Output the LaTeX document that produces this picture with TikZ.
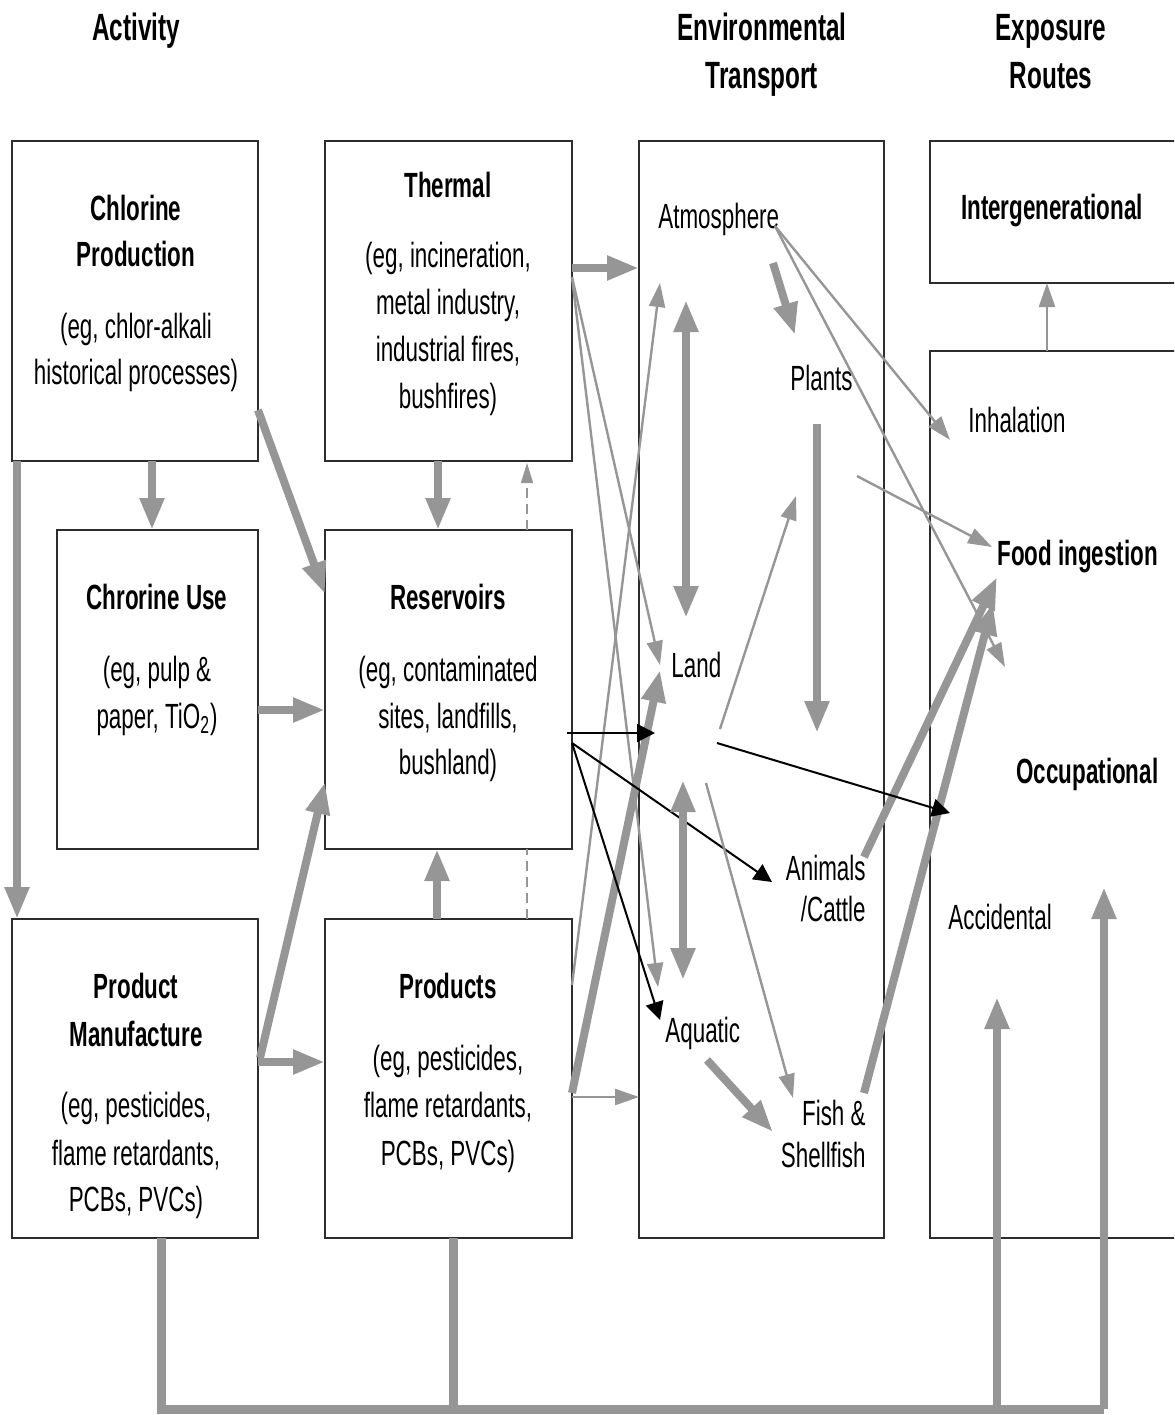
\documentclass[tikz,border=0pt]{standalone}
\usepackage{fontspec}
\setmainfont{Liberation Sans}[FakeStretch=0.64]
\usetikzlibrary{arrows.meta,calc}
\definecolor{ag}{RGB}{150,150,150}
\definecolor{bd}{RGB}{45,45,45}
\begin{document}
\begin{tikzpicture}[x=0.5pt,y=-0.5pt,
  box/.style 2 args={draw=bd,line width=1pt,minimum width=#1*0.5pt,minimum height=#2*0.5pt,inner sep=0pt,outer sep=0pt},
  lbl/.style={inner sep=0pt,anchor=base,font=\fontsize{17.5pt}{21pt}\selectfont},
  ttl/.style={inner sep=0pt,anchor=base,font=\fontsize{17.5pt}{21pt}\selectfont\bfseries},
  hdr/.style={inner sep=0pt,anchor=base,font=\fontsize{19pt}{23pt}\selectfont\bfseries},
  thk/.style={draw=ag,line width=4pt,-{Triangle[length=16pt,width=11.5pt]}},
  thkd/.style={draw=ag,line width=4pt,{Triangle[length=16pt,width=11.5pt]}-{Triangle[length=16pt,width=11.5pt]}},
  loopline/.style={draw=ag,line width=4.5pt,line join=miter},
  thn/.style={draw=ag,line width=1.2pt,-{Triangle[length=12pt,width=8pt]}},
  dsh/.style={draw=ag,line width=0.8pt,dash pattern=on 5pt off 3pt},
  blk/.style={draw=black,line width=1pt,-{Triangle[length=9pt,width=9pt]}}
]
\useasboundingbox (0,0) rectangle (1174,1415);
\clip (0,0) rectangle (1174,1415);

% headers
\node[hdr] (hAct) at (136,40) {Activity};
\node[hdr] (hEnv1) at (762,40) {Environmental};
\node[hdr] (hEnv2) at (762,88) {Transport};
\node[hdr] (hExp1) at (1051,40) {Exposure};
\node[hdr] (hExp2) at (1051,88) {Routes};

% boxes
\node[box={246}{320}] (chlor) at (135,301) {};
\node[box={247}{320}] (therm) at (448.5,301) {};
\node[box={245}{1097}] (env) at (761.5,689.5) {};
\node[box={250}{142}] (inter) at (1055,212) {};
\node[box={250}{887}] (expo) at (1055,794.5) {};
\node[box={201}{319}] (use) at (157.5,689.5) {};
\node[box={247}{319}] (res) at (448.5,689.5) {};
\node[box={246}{319}] (manu) at (135,1078.5) {};
\node[box={247}{319}] (prod) at (448.5,1078.5) {};

% box texts
\node[ttl] (chlorT1) at (136,220) {Chlorine};
\node[ttl] (chlorT2) at (136,266) {Production};
\node[lbl] (chlorD1) at (136,338) {(eg, chlor-alkali};
\node[lbl] (chlorD2) at (136,384) {historical processes)};

\node[ttl] (thermT) at (448,197) {Thermal};
\node[lbl] (thermD1) at (448,267) {(eg, incineration,};
\node[lbl] (thermD2) at (448,314) {metal industry,};
\node[lbl] (thermD3) at (448,361) {industrial fires,};
\node[lbl] (thermD4) at (448,408) {bushfires)};

\node[ttl] (useT) at (157,609) {Chrorine Use};
\node[lbl] (useD1) at (157,681) {(eg, pulp \&};
\node[lbl] (useD2) at (157,728) {paper, TiO\textsubscript{2})};

\node[ttl] (resT) at (448,609) {Reservoirs};
\node[lbl] (resD1) at (448,681) {(eg, contaminated};
\node[lbl] (resD2) at (448,728) {sites, landfills,};
\node[lbl] (resD3) at (448,774) {bushland)};

\node[ttl] (manuT1) at (136,998) {Product};
\node[ttl] (manuT2) at (136,1046) {Manufacture};
\node[lbl] (manuD1) at (136,1117) {(eg, pesticides,};
\node[lbl] (manuD2) at (136,1165) {flame retardants,};
\node[lbl] (manuD3) at (136,1211) {PCBs, PVCs)};

\node[ttl] (prodT) at (448,998) {Products};
\node[lbl] (prodD1) at (448,1070) {(eg, pesticides,};
\node[lbl] (prodD2) at (448,1117) {flame retardants,};
\node[lbl] (prodD3) at (448,1165) {PCBs, PVCs)};

% environmental transport labels
\node[lbl,anchor=base west] (atm) at (658,228) {Atmosphere};
\node[lbl,anchor=base west] (plants) at (790,390) {Plants};
\node[lbl,anchor=base west] (land) at (671,677) {Land};
\node[lbl,anchor=base east] (ani1) at (866,880) {Animals};
\node[lbl,anchor=base east] (ani2) at (866,921) {/Cattle};
\node[lbl,anchor=base west] (aqu) at (665,1042) {Aquatic};
\node[lbl,anchor=base east] (fish1) at (866,1125) {Fish \&};
\node[lbl,anchor=base east] (fish2) at (866,1167) {Shellfish};

% exposure labels
\node[ttl] (interT) at (1052,219) {Intergenerational};
\node[lbl,anchor=base west] (inh) at (968,432) {Inhalation};
\node[ttl,anchor=base west] (food) at (997,565) {Food ingestion};
\node[ttl,anchor=base west] (occ) at (1016,783) {Occupational};
\node[lbl,anchor=base west] (acc) at (948,929) {Accidental};

% named connector ends inside the transport / exposure columns
\coordinate (landIn) at (660,665);
\coordinate (landIn2) at (660,670);
\coordinate (landIn3) at (655,733);
\coordinate (aquIn1) at (658,987);
\coordinate (aquIn2) at (660,1020);
\coordinate (atmIn) at (660,283);
\coordinate (aniIn) at (772,882);
\coordinate (atmDn) at (686,300);
\coordinate (landUp) at (686,618);
\coordinate (landDn) at (683,780);
\coordinate (aquUp) at (683,980);
\coordinate (atmOut) at (773,263);
\coordinate (plantsIn) at (795,335);
\coordinate (plantsOut) at (817,424);
\coordinate (aniTop) at (817,733);
\coordinate (landOut1) at (720,729);
\coordinate (plantsIn2) at (796,496);
\coordinate (landOut2) at (706,783);
\coordinate (fishIn) at (793,1098);
\coordinate (aquOut) at (707,1060);
\coordinate (fishIn2) at (773,1132);
\coordinate (atmR) at (775,226);
\coordinate (inhIn) at (950,440);
\coordinate (foodIn3) at (1005,667);
\coordinate (plantsR) at (857,476);
\coordinate (foodIn1) at (992,547);
\coordinate (aniR) at (864,857);
\coordinate (foodIn2) at (997,577);
\coordinate (fishR) at (864,1093);
\coordinate (foodIn4) at (993,603);
\coordinate (landR) at (717,743);
\coordinate (occIn) at (950,813);
\coordinate (lpL) at (161,1409);
\coordinate (lpM) at (453,1409);
\coordinate (lpA) at (997,1409);
\coordinate (lpR) at (1104,1409);
\coordinate (occUp) at (1104,887);
\coordinate (accUp) at (997,997);

% activity column connectors
\draw[thk] ($(chlor.south west)+(140,0)$) -- ($(use.north west)+(95,0)$);
\draw[thk] ($(chlor.north east)+(0,269)$) -- ($(res.north west)+(0,64)$);
\draw[thk] ($(therm.south west)+(113,0)$) -- ($(res.north west)+(113,0)$);
\draw[dsh,-{Triangle[length=10pt,width=6pt]}] ($(res.north west)+(202,0)$) -- ($(therm.south west)+(202,2)$);
\draw[thk] ($(chlor.south west)+(5,0)$) -- ($(manu.north west)+(5,0)$);
\draw[thk] ($(use.north east)+(0,180)$) -- ($(res.north west)+(0,180)$);
\draw[thk] ($(manu.north east)+(2,139)$) -- ($(res.north west)+(0,252)$);
\draw[thk] ($(manu.north east)+(0,143)$) -- ($(prod.north west)+(0,143)$);
\draw[thk] ($(prod.north west)+(112,0)$) -- ($(res.south west)+(112,0)$);
\draw[dsh] ($(prod.north west)+(202,0)$) -- ($(res.south west)+(202,0)$);

% to environmental transport
\draw[thk] ($(therm.north east)+(0,127)$) -- ($(env.north west)+(0,127)$);
\draw[thn] ($(therm.north east)+(0,136)$) -- (landIn);
\draw[thn] ($(therm.north east)+(0,136)$) -- (aquIn1);
\draw[thn] ($(prod.north east)+(0,66)$) -- (atmIn);
\draw[thk] ($(prod.north east)+(0,174)$) -- (landIn2);
\draw[thn] ($(prod.north east)+(0,178)$) -- ($(env.north west)+(0,956)$);
\draw[blk] ($(res.north east)+(-5,203)$) -- (landIn3);
\draw[blk] ($(res.north east)+(0,213)$) -- (aniIn);
\draw[blk] ($(res.north east)+(0,213)$) -- (aquIn2);

% inside environmental transport
\draw[thkd] (atmDn) -- (landUp);
\draw[thkd] (landDn) -- (aquUp);
\draw[thk] (atmOut) -- (plantsIn);
\draw[thk] (plantsOut) -- (aniTop);
\draw[thn] (landOut1) -- (plantsIn2);
\draw[thn] (landOut2) -- (fishIn);
\draw[thk] (aquOut) -- (fishIn2);

% to exposure routes
\draw[thn] (atmR) -- (inhIn);
\draw[thn] (atmR) -- (foodIn3);
\draw[thn] (plantsR) -- (foodIn1);
\draw[thk] (aniR) -- (foodIn2);
\draw[thk] (fishR) -- (foodIn4);
\draw[blk] (landR) -- (occIn);
\draw[thn] ($(expo.north west)+(117,0)$) -- ($(inter.south west)+(117,0)$);

% bottom loop
\draw[loopline] ($(manu.south west)+(149,0)$) -- (lpL) -- (lpR);
\draw[loopline] ($(prod.south west)+(128,0)$) -- (lpM);
\draw[thk] (lpR) -- (occUp);
\draw[thk] (lpA) -- (accUp);
\end{tikzpicture}
\end{document}
